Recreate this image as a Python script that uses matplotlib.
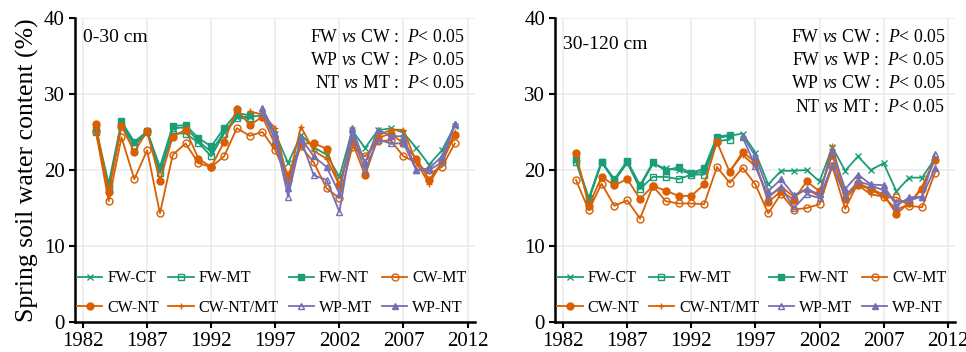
import numpy as np
import matplotlib
matplotlib.use('Agg')
import matplotlib.pyplot as plt

plt.rcParams['font.family'] = ['Liberation Serif', 'DejaVu Serif']
plt.rcParams['mathtext.fontset'] = 'custom'
plt.rcParams['mathtext.rm'] = 'Liberation Serif'
plt.rcParams['mathtext.it'] = 'Liberation Serif:italic'

years = np.arange(1983, 2012)
nan = np.nan

# 0-30 cm
top_fw_ct = [25.3, 17.8, 26.0, 23.5, 25.0, 20.2, 25.5, 25.6, 23.8, 22.4, 25.0, 27.0, 27.0, 27.2, 24.8,
             20.9, 24.6, 23.0, 22.0, 19.1, 25.2, 22.9, 25.2, 25.5, 24.9, 22.9, 20.7, 22.6, 25.8]
top_fw_mt = [25.0, 17.5, 25.8, 23.2, 25.0, 19.6, 24.8, 24.8, 23.6, 21.8, 24.8, 26.8, 26.8] + [nan] * 16
top_fw_nt = [25.5, 18.2, 26.4, 23.7, 25.1, 20.4, 25.8, 25.9, 24.2, 23.1, 25.5, 27.5, 27.2] + [nan] * 16
top_cw_mt = [25.1, 15.9, 24.3, 18.8, 22.6, 14.3, 22.0, 23.5, 20.9, 20.4, 21.8, 25.5, 24.5, 25.0, 22.6,
             18.7, 23.1, 21.0, 17.6, 16.3, 23.0, 21.8, 23.8, 23.9, 21.8, 21.0, 19.5, 20.4, 23.5]
top_cw_nt = [26.0, 17.1, 25.8, 22.4, 25.1, 18.6, 24.4, 25.3, 21.5, 20.4, 23.7, 28.0, 25.9, 27.0, 23.3,
             19.3, 23.5, 23.5, 22.8, 18.0, 23.7, 19.3, 24.2, 24.8, 23.5, 21.5, 18.7, 21.0, 24.6]
top_cw_ntmt = [nan] * 12 + [27.7, 27.3, 25.5, 18.5, 25.7, 22.5, 21.5, 18.0, 24.5, 21.0, 24.5, 25.3,
                            25.3, 21.0, 18.2, 21.0, 25.0]
top_wp_mt = [nan] * 13 + [27.5, 24.0, 16.5, 24.0, 19.3, 18.7, 14.5, 24.5, 20.0, 24.0, 23.5, 23.5,
                          20.0, 20.0, 21.0, 26.0]
top_wp_nt = [nan] * 13 + [28.1, 24.8, 17.6, 24.2, 21.8, 20.4, 16.9, 25.5, 20.9, 25.3, 24.5, 24.4,
                          20.0, 20.2, 21.8, 26.1]

# 30-120 cm
sub_fw_ct = [21.3, 16.0, 21.0, 18.6, 21.0, 17.8, 20.8, 20.2, 20.0, 19.5, 19.8, 24.2, 24.5, 24.8, 22.3,
             18.1, 19.9, 19.9, 20.0, 18.5, 23.0, 19.9, 21.8, 20.0, 20.9, 17.2, 19.0, 19.0, 21.5]
sub_fw_mt = [21.1, 16.2, 21.1, 18.6, 21.0, 17.5, 19.1, 19.1, 18.8, 19.4, 19.4, 23.8, 24.0] + [nan] * 16
sub_fw_nt = [21.4, 16.3, 21.1, 18.8, 21.2, 18.0, 21.0, 19.9, 20.4, 19.6, 20.2, 24.4, 24.6] + [nan] * 16
sub_cw_mt = [18.7, 14.7, 18.2, 15.3, 16.0, 13.6, 17.9, 15.9, 15.6, 15.6, 15.5, 20.4, 18.3, 20.3, 18.1,
             14.3, 16.9, 14.8, 15.0, 15.5, 20.5, 14.9, 18.3, 17.5, 16.4, 16.4, 15.3, 15.1, 19.6]
sub_cw_nt = [22.2, 15.3, 19.1, 18.0, 18.8, 16.2, 17.9, 17.3, 16.6, 16.6, 18.1, 23.7, 19.7, 22.4, 21.0,
             15.8, 17.2, 16.1, 18.5, 17.2, 22.0, 16.2, 18.0, 17.5, 16.8, 14.2, 15.7, 17.5, 21.3]
sub_cw_ntmt = [nan] * 12 + [19.9, 22.0, 20.5, 16.5, 17.8, 16.5, 17.5, 16.5, 23.1, 16.8, 18.0, 16.8,
                            16.5, 14.8, 15.5, 17.8, 21.5]
sub_wp_mt = [nan] * 13 + [24.3, 20.5, 16.4, 17.8, 15.0, 16.8, 16.3, 20.7, 16.5, 18.5, 18.0, 17.3,
                          15.8, 16.0, 16.5, 22.1]
sub_wp_nt = [nan] * 13 + [24.5, 21.8, 17.2, 18.8, 16.7, 17.5, 16.8, 22.6, 17.5, 19.4, 18.1, 18.0,
                          15.3, 16.4, 16.5, 20.2]

labels = ['FW-CT', 'FW-MT', 'FW-NT', 'CW-MT', 'CW-NT', 'CW-NT/MT', 'WP-MT', 'WP-NT']
green, orange, purple = '#1b9e77', '#d95f02', '#7570b3'
styles = [
    dict(color=green, marker='x', mfc='none'),
    dict(color=green, marker='s', mfc='none'),
    dict(color=green, marker='s', mfc=green),
    dict(color=orange, marker='o', mfc='none'),
    dict(color=orange, marker='o', mfc=orange),
    dict(color=orange, marker='+', mfc='none'),
    dict(color=purple, marker='^', mfc='none'),
    dict(color=purple, marker='^', mfc=purple),
]

top = [top_fw_ct, top_fw_mt, top_fw_nt, top_cw_mt, top_cw_nt, top_cw_ntmt, top_wp_mt, top_wp_nt]
sub = [sub_fw_ct, sub_fw_mt, sub_fw_nt, sub_cw_mt, sub_cw_nt, sub_cw_ntmt, sub_wp_mt, sub_wp_nt]

fig = plt.figure(figsize=(9.66, 3.52), dpi=100)
ax1 = fig.add_axes([0.078, 0.085, 0.414, 0.864])
ax2 = fig.add_axes([0.575, 0.085, 0.414, 0.864])

for ax, data in [(ax1, top), (ax2, sub)]:
    lines = []
    for vals, lab, st in zip(data, labels, styles):
        ln, = ax.plot(years, vals, label=lab, lw=1.3, ms=5, mew=1.0, **st)
        lines.append(ln)
    ax.set_xlim(1981.4, 2012.6)
    ax.set_ylim(0, 40)
    ax.set_xticks(range(1982, 2013, 5))
    ax.set_yticks([0, 10, 20, 30, 40])
    ax.grid(True, color='#ebebeb', lw=1.2)
    ax.set_axisbelow(True)
    for s in ['top', 'right']:
        ax.spines[s].set_visible(False)
    for s in ['left', 'bottom']:
        ax.spines[s].set_linewidth(1.8)
    ax.tick_params(labelsize=15, width=1.5, length=4)
    order = [0, 4, 1, 5, 2, 6, 3, 7]
    ax.legend([lines[i] for i in order], [labels[i] for i in order], ncol=4, frameon=False,
              loc='lower left', bbox_to_anchor=(-0.012, 0.0), borderaxespad=0.2, borderpad=0.2,
              fontsize=11.5, handlelength=1.6, handletextpad=0.3, columnspacing=0.6,
              labelspacing=0.85)

ax1.set_ylabel('Spring soil water content (%)', fontsize=18.5)
ax1.text(0.02, 0.965, '0-30 cm', transform=ax1.transAxes, fontsize=14, va='top')
ax2.text(0.02, 0.94, '30-120 cm', transform=ax2.transAxes, fontsize=14, va='top')

notes1 = ['FW $\\mathit{vs}$ CW :  $\\mathit{P}$< 0.05',
          'WP $\\mathit{vs}$ CW :  $\\mathit{P}$> 0.05',
          'NT $\\mathit{vs}$ MT :  $\\mathit{P}$< 0.05']
notes2 = ['FW $\\mathit{vs}$ CW :  $\\mathit{P}$< 0.05',
          'FW $\\mathit{vs}$ WP :  $\\mathit{P}$< 0.05',
          'WP $\\mathit{vs}$ CW :  $\\mathit{P}$< 0.05',
          'NT $\\mathit{vs}$ MT :  $\\mathit{P}$< 0.05']
for ax, notes in [(ax1, notes1), (ax2, notes2)]:
    for i, t in enumerate(notes):
        ax.text(0.975, 0.965 - i * 0.077, t, transform=ax.transAxes, fontsize=12.8,
                ha='right', va='top')

fig.savefig('out.png', dpi=100)
